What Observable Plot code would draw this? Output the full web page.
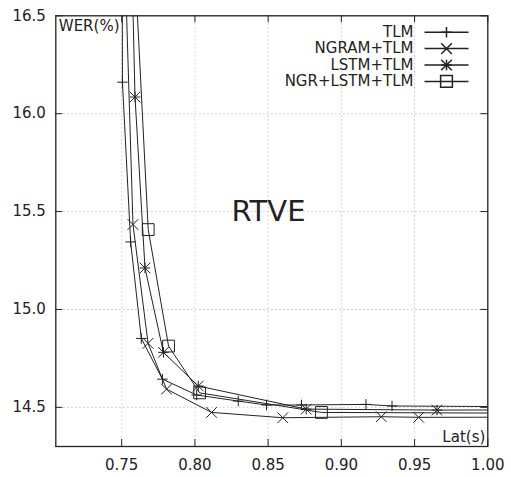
<!DOCTYPE html>
<html><head><meta charset="utf-8">
<script src="https://cdn.jsdelivr.net/npm/d3@7"></script>
<script src="https://cdn.jsdelivr.net/npm/@observablehq/plot@0.6"></script>
<style>body{margin:0;background:#fff}</style>
</head><body><div id="chart"></div>
<script>
// ---- data ----
const seriesNames = ["TLM", "NGRAM+TLM", "LSTM+TLM", "NGR+LSTM+TLM"];
const tlmX   = [0.7502, 0.7505, 0.7561, 0.7634, 0.7778, 0.8012, 0.8296, 0.8489, 0.8728, 0.9168, 0.9346, 1.03];
const tlmY   = [17.5, 16.161, 15.345, 14.852, 14.644, 14.563, 14.532, 14.512, 14.512, 14.515, 14.507, 14.503];
const ngramX = [0.7493, 0.7577, 0.7680, 0.7806, 0.8114, 0.8600, 0.9273, 0.9528, 1.03];
const ngramY = [17.5, 15.434, 14.827, 14.593, 14.474, 14.447, 14.452, 14.449, 14.450];
const lstmX  = [0.7546, 0.7591, 0.7659, 0.7785, 0.8023, 0.8760, 0.9653, 1.03];
const lstmY  = [17.5, 16.085, 15.212, 14.781, 14.609, 14.491, 14.486, 14.487];
const ngrX   = [0.7540, 0.7681, 0.7820, 0.8032, 0.8864, 1.03];
const ngrY   = [17.5, 15.408, 14.813, 14.574, 14.474, 14.470];
const xTicks = [0.75, 0.80, 0.85, 0.90, 0.95, 1.00];
const yTicks = [14.5, 15.0, 15.5, 16.0, 16.5];
const xDomain = [0.705, 1.0];
const yDomain = [14.3, 16.5];

// ---- build table ----
const seriesX = [tlmX, ngramX, lstmX, ngrX];
const seriesY = [tlmY, ngramY, lstmY, ngrY];
const rows = seriesNames.flatMap((s, i) => seriesX[i].map((x, j) => ({series: s, x, y: seriesY[i][j]})));
const symbolsFor = {
  "TLM": [["plus", 3.5]],
  "NGRAM+TLM": [["times", 4.9]],
  "LSTM+TLM": [["plus", 3.5], ["times", 4.9]],
  "NGR+LSTM+TLM": [["square2", 7.5]]
};

const W = 511, H = 477, mL = 55.3, mR = 23.7, mT = 15.3, mB = 31;
const fw = W - mL - mR, fh = H - mT - mB, tk = 7;
const ink = "#222";
const font = "DejaVu Sans, sans-serif";

const hline = {draw(ctx) { ctx.moveTo(-22, 0); ctx.lineTo(22, 0); }};

const marks = [
  Plot.gridX(xTicks, {stroke: "#b4b4b4", strokeOpacity: 1, strokeDasharray: "1,3"}),
  Plot.gridY(yTicks, {stroke: "#b4b4b4", strokeOpacity: 1, strokeDasharray: "1,3"}),
  Plot.tickX(xTicks, {x: d => d, insetTop: fh - tk, stroke: ink}),
  Plot.tickX(xTicks, {x: d => d, insetBottom: fh - tk, stroke: ink}),
  Plot.tickY(yTicks, {y: d => d, insetRight: fw - tk, stroke: ink}),
  Plot.tickY(yTicks, {y: d => d, insetLeft: fw - tk, stroke: ink}),
  Plot.axisX(xTicks, {tickSize: 0, tickPadding: 13, tickFormat: d3.format(".2f"), fontSize: 15, fill: ink}),
  Plot.axisY(yTicks, {tickSize: 0, tickPadding: 10, tickFormat: d3.format(".1f"), fontSize: 15, fill: ink}),
  Plot.line(rows, {x: "x", y: "y", z: "series", stroke: ink, strokeWidth: 1, clip: true})
];
seriesNames.forEach(s => {
  symbolsFor[s].forEach(([sym, r]) => {
    marks.push(Plot.dot(rows.filter(d => d.series === s), {x: "x", y: "y", symbol: sym, r, stroke: ink, fill: "none", strokeWidth: 1, clip: true}));
  });
});
// legend (inside frame, top right)
seriesNames.forEach((s, i) => {
  const dy = 16.4 + i * 16.4;
  marks.push(Plot.text([s], {frameAnchor: "top-right", dx: -74.3, dy, textAnchor: "end", lineAnchor: "middle", fontSize: 15, fill: ink}));
  marks.push(Plot.dot([s], {frameAnchor: "top-right", dx: -41.3, dy, symbol: hline, r: 1, stroke: ink, fill: "none"}));
  symbolsFor[s].forEach(([sym, r]) => {
    marks.push(Plot.dot([s], {frameAnchor: "top-right", dx: -41.3, dy, symbol: sym, r, stroke: ink, fill: "none"}));
  });
});
marks.push(
  Plot.text(["WER(%)"], {frameAnchor: "top-left", dx: 3, dy: 10.2, textAnchor: "start", lineAnchor: "middle", fontSize: 15, fill: ink}),
  Plot.text(["Lat(s)"], {frameAnchor: "bottom-right", dx: -2.5, dy: -9.1, textAnchor: "end", lineAnchor: "middle", fontSize: 15, fill: ink}),
  Plot.text(["RTVE"], {frameAnchor: "middle", dx: -3.3, dy: -19, textAnchor: "middle", lineAnchor: "middle", fontSize: 29, fill: ink}),
  Plot.frame({stroke: ink, strokeWidth: 1.3})
);

const chart = Plot.plot({
  width: W, height: H,
  marginLeft: mL, marginRight: mR, marginTop: mT, marginBottom: mB,
  style: {fontFamily: font, background: "#fff", color: ink},
  x: {domain: xDomain, label: null, axis: null},
  y: {domain: yDomain, label: null, axis: null},
  marks
});
document.getElementById("chart").appendChild(chart);
</script>
</body></html>
